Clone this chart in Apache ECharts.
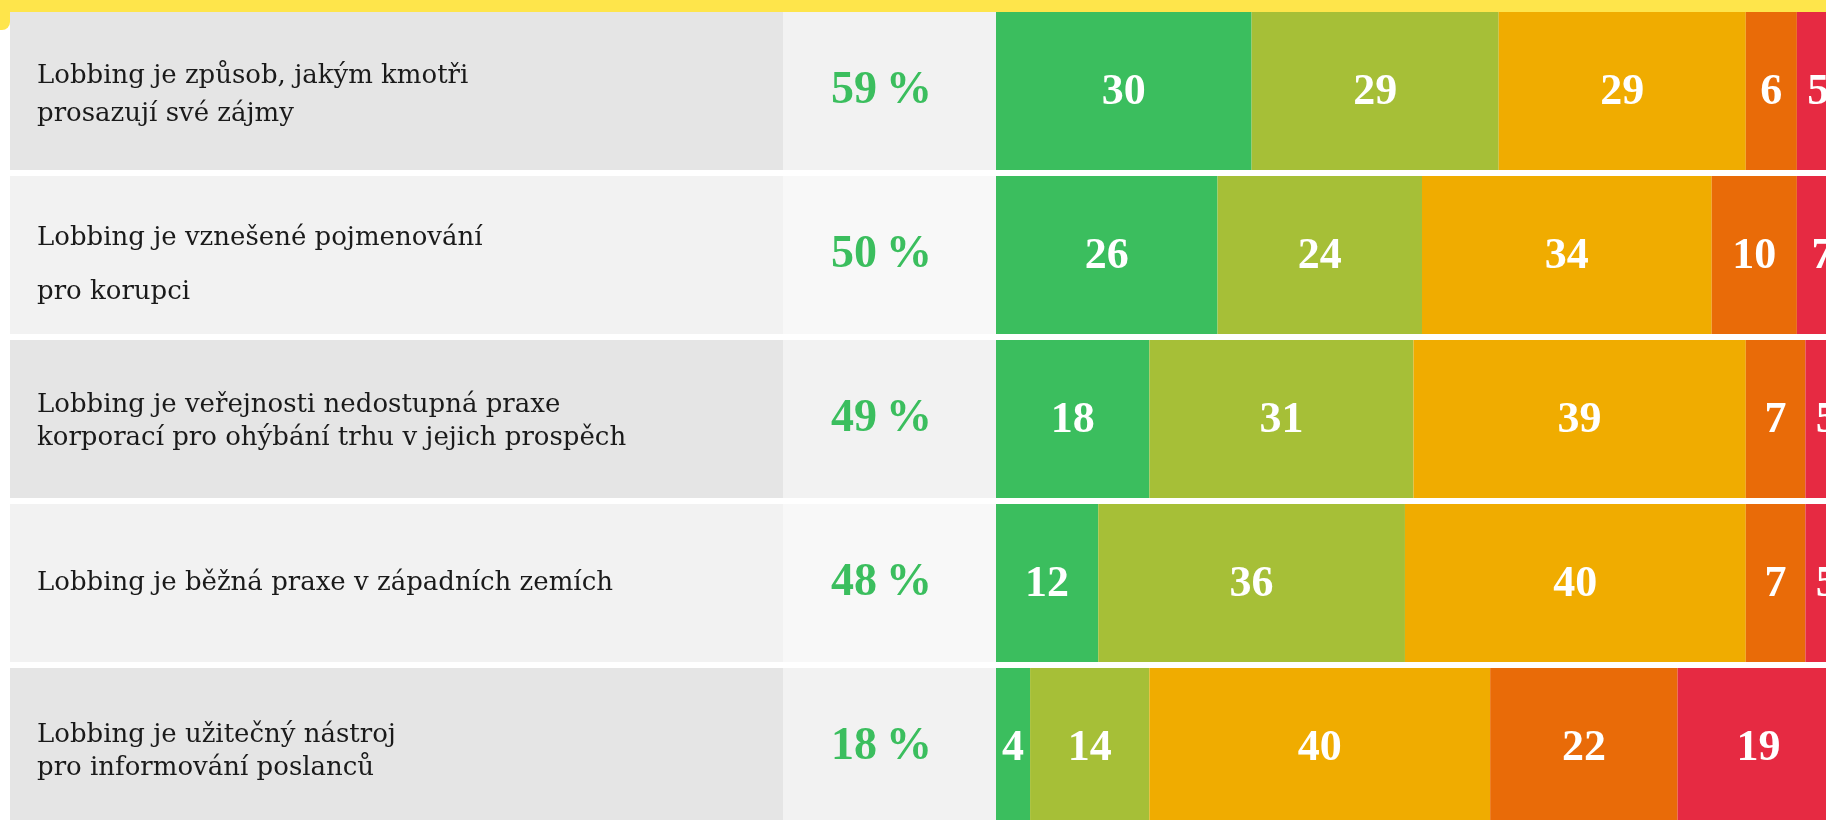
<!DOCTYPE html>
<html>
<head>
<meta charset="utf-8">
<script src="https://cdn.jsdelivr.net/npm/echarts@6/dist/echarts.min.js"></script>
<style>
    html, body { margin: 0; padding: 0; background: #ffffff; }
    #chart { width: 1826px; height: 820px; }
</style>
</head>
<body>
<div id="chart"></div>
<script>
// výroky
var statements = [
    'Lobbing je způsob, jakým kmotři\nprosazují své zájmy',
    'Lobbing je vznešené pojmenování\npro korupci',
    'Lobbing je veřejnosti nedostupná praxe\nkorporací pro ohýbání trhu v jejich prospěch',
    'Lobbing je běžná praxe v západních zemích',
    'Lobbing je užitečný nástroj\npro informování poslanců'
];
// souhlas celkem (%)
var agreeTotal = [59, 50, 49, 48, 18];

var seriesNames = ['rozhodně souhlasí', 'spíše souhlasí', 'spíše nesouhlasí', 'rozhodně nesouhlasí', 'neví'];
var strongAgree = [30, 26, 18, 12, 4];
var ratherAgree = [29, 24, 31, 36, 14];
var ratherDisagree = [29, 34, 39, 40, 40];
var strongDisagree = [6, 10, 7, 7, 22];
var dontKnow = [5, 7, 5, 5, 19];

var colors = ['#3bbe5e', '#a6bf37', '#f0ac00', '#e96b08', '#e62a42'];
var serif = '"Liberation Serif", "DejaVu Serif", serif';
// řádkování a posun textu výroků v jednotlivých řádcích
var textLineHeights = [38, 54, 33, 33, 33];
var textShiftY = [4, 10, 3, 0, 5];

var chart = echarts.init(document.getElementById('chart'));

var rowIdx = statements.map(function (s, i) { return i; });

var valueSeries = [strongAgree, ratherAgree, ratherDisagree, strongDisagree, dontKnow].map(function (values, i) {
    return {
        name: seriesNames[i],
        type: 'bar',
        stack: 'answers',
        xAxisIndex: 0,
        yAxisIndex: 0,
        barWidth: 158,
        itemStyle: { color: colors[i] },
        label: {
            show: true,
            position: 'inside',
            offset: [0, 2],
            color: '#ffffff',
            fontFamily: serif,
            fontWeight: 'bold',
            fontSize: 44
        },
        data: values
    };
});

chart.setOption({
    animation: false,
    backgroundColor: '#ffffff',
    graphic: [
        { type: 'rect', shape: { x: 0, y: 0, width: 1826, height: 12 }, style: { fill: '#fee54b' }, z: 0 },
        { type: 'rect', shape: { x: 0, y: 0, width: 10, height: 30, r: [0, 0, 8, 0] }, style: { fill: '#fee54b' }, z: 0 }
    ],
    grid: [
        { left: 996, top: 9, width: 852, height: 820, outerBoundsMode: 'none' },
        { left: 10, top: 9, width: 986, height: 820, outerBoundsMode: 'none' }
    ],
    xAxis: [
        { type: 'value', gridIndex: 0, min: 0, max: 100, show: false },
        { type: 'value', gridIndex: 1, min: 0, max: 986, show: false }
    ],
    yAxis: [
        { type: 'category', gridIndex: 0, inverse: true, data: rowIdx, show: false },
        { type: 'category', gridIndex: 1, inverse: true, data: rowIdx, show: false }
    ],
    series: valueSeries.concat([
        {
            // panel s textem výroku
            type: 'bar',
            stack: 'panel',
            xAxisIndex: 1,
            yAxisIndex: 1,
            barWidth: 158,
            silent: true,
            data: statements.map(function (s, i) {
                return {
                    value: 773,
                    itemStyle: { color: i % 2 ? '#f2f2f2' : '#e5e5e5' },
                    label: { offset: [0, textShiftY[i]], lineHeight: textLineHeights[i] }
                };
            }),
            label: {
                show: true,
                position: 'insideLeft',
                distance: 27,
                formatter: function (p) { return statements[p.dataIndex]; },
                fontFamily: '"DejaVu Serif", serif',
                fontSize: 26,
                color: '#1a1a1a'
            }
        },
        {
            // panel s procentem souhlasu
            type: 'bar',
            stack: 'panel',
            xAxisIndex: 1,
            yAxisIndex: 1,
            barWidth: 158,
            silent: true,
            data: agreeTotal.map(function (v, i) {
                return { value: 213, itemStyle: { color: i % 2 ? '#f8f8f8' : '#f2f2f2' } };
            }),
            label: {
                show: true,
                position: 'inside',
                offset: [-8, 0],
                formatter: function (p) { return agreeTotal[p.dataIndex] + '\u2009%'; },
                color: '#3bbe5e',
                fontFamily: serif,
                fontWeight: 'bold',
                fontSize: 46
            }
        }
    ])
});
</script>
</body>
</html>
